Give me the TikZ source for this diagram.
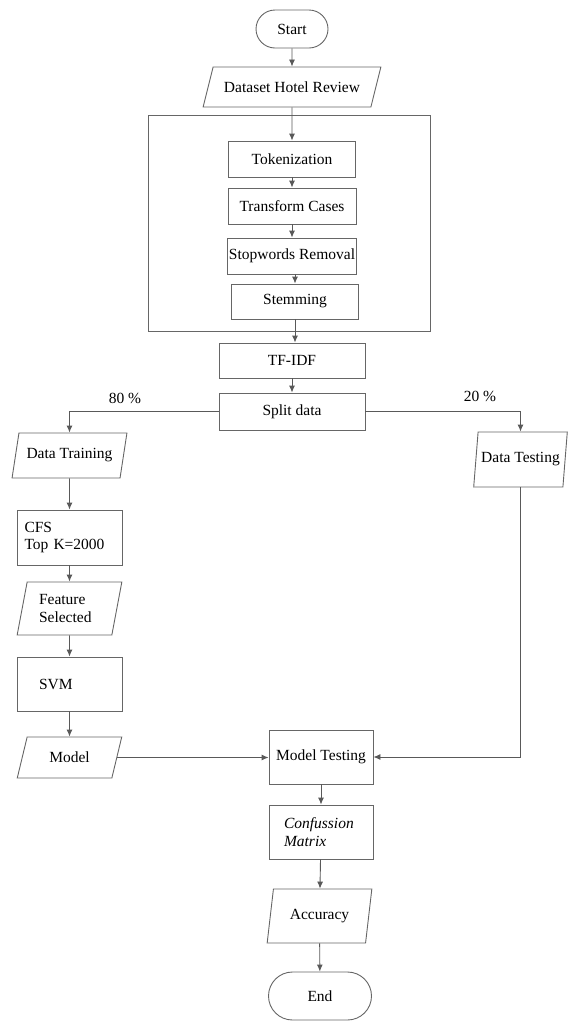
\documentclass[tikz,border=0pt]{standalone}
\usepackage{fontspec}
\setmainfont{Liberation Serif}
\usetikzlibrary{shapes.geometric,shapes.misc,arrows.meta}
\begin{document}
\begin{tikzpicture}[
  x=1pt, y=-1pt,
  every node/.style={draw=black!60, line width=0.9pt, inner sep=1pt,
    font=\fontsize{15.5}{17.5}\selectfont},
  term/.style={rounded rectangle},
  proc/.style={rectangle},
  io/.style={trapezium, trapezium left angle=#1, trapezium right angle=180-#1,
    trapezium stretches=true},
  pct/.style={draw=none},
  arr/.style={draw=black!65, line width=0.9pt, -{Latex[length=7pt,width=6pt]}}
]
\useasboundingbox (0,0) rectangle (568,1026);
\node[term, minimum width=74pt, minimum height=38pt] (start) at (292,29) {Start};
\node[io=56, minimum width=178pt, minimum height=40pt] (data) at (292,87) {Dataset Hotel Review};
\node[proc, minimum width=282pt, minimum height=216pt] (prep) at (289,223) {};
\node[proc, minimum width=127pt, minimum height=36pt] (token) at (292,159) {Tokenization};
\node[proc, minimum width=128pt, minimum height=36pt] (trans) at (292,206) {Transform Cases};
\node[proc, minimum width=128pt, minimum height=36pt] (stop) at (292,256) {Stopwords Removal};
\node[proc, minimum width=127pt, minimum height=35pt] (stem) at (295,301.5) {Stemming};
\node[proc, minimum width=146pt, minimum height=35pt] (tfidf) at (292,360.5) {TF-IDF};
\node[proc, minimum width=146pt, minimum height=37pt] (split) at (292,411.5) {Split data};
\node[pct] (p80) at (125,398) {80 \%};
\node[pct] (p20) at (480,396) {20 \%};
\node[io=69, minimum width=115pt, minimum height=45pt] (train) at (69.5,455.5) {Data Training};
\node[io=75, minimum width=94pt, minimum height=55pt] (test) at (520.5,459.5) {Data Testing};
\node[proc, minimum width=105pt, minimum height=55pt, text width=90pt, align=left] (cfs) at (69.5,537.5) {CFS\\Top K=2000};
\node[io=76, minimum width=105pt, minimum height=53pt, text width=61pt, align=left] (feat) at (69.5,608.5) {Feature\\Selected};
\node[proc, minimum width=105pt, minimum height=54pt, text width=61pt, align=left] (svm) at (69.5,684) {SVM};
\node[io=69, minimum width=105pt, minimum height=41pt] (model) at (69.5,757.5) {Model};
\node[proc, minimum width=104pt, minimum height=54pt] (mtest) at (321,757) {Model Testing};
\node[proc, minimum width=104pt, minimum height=54pt, text width=74pt, align=left] (conf) at (321,832) {\textit{Confussion}\\\textit{Matrix}};
\node[io=75, minimum width=105pt, minimum height=54pt] (acc) at (319.5,916) {Accuracy};
\node[term, minimum width=105pt, minimum height=48pt] (end) at (320,996) {End};
\draw[arr] (start) -- (data);
\draw[arr] (data) -- (token);
\draw[arr] (token) -- (trans);
\draw[arr] (trans) -- (stop);
\draw[arr] (stop.south -| stem) -- (stem.north);
\draw[arr] (stem) -- (stem |- tfidf.north);
\draw[arr] (tfidf) -- (split);
\draw[arr] (split.west) -| (train.north);
\draw[arr] (split.east) -| (test.north);
\draw[arr] (train) -- (cfs);
\draw[arr] (cfs) -- (feat);
\draw[arr] (feat) -- (svm);
\draw[arr] (svm) -- (model);
\draw[arr] (model.east) -- (model.east -| mtest.west);
\draw[arr] (test.south) |- (mtest.east);
\draw[arr] (mtest) -- (conf);
\draw[arr] (conf) -- (acc);
\draw[arr] (acc) -- (end);
\end{tikzpicture}
\end{document}
